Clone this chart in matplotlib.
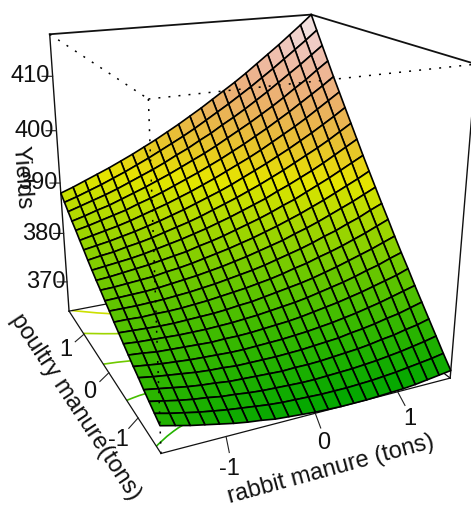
import numpy as np
import matplotlib
matplotlib.use("Agg")
import matplotlib.pyplot as plt
from matplotlib.colors import hsv_to_rgb
from mpl_toolkits.mplot3d import proj3d

plt.rcParams['font.family'] = ['Liberation Sans', 'DejaVu Sans']

rabbit = [-1.68, -1.527, -1.375, -1.222, -1.069, -0.916, -0.764, -0.611, -0.458, -0.305, -0.153, 0.0,
          0.153, 0.305, 0.458, 0.611, 0.764, 0.916, 1.069, 1.222, 1.375, 1.527, 1.68]
poultry = [-1.68, -1.527, -1.375, -1.222, -1.069, -0.916, -0.764, -0.611, -0.458, -0.305, -0.153, 0.0,
           0.153, 0.305, 0.458, 0.611, 0.764, 0.916, 1.069, 1.222, 1.375, 1.527, 1.68]
# rows are poultry levels, columns are rabbit levels
yields = [
    [370.0, 369.4, 368.8, 368.3, 367.8, 367.3, 366.9, 366.6, 366.2, 366.0, 365.8, 365.6, 365.5, 365.4, 365.4, 365.4, 365.5, 365.6, 365.7, 365.9, 366.2, 366.5, 366.8],
    [370.7, 370.1, 369.6, 369.1, 368.7, 368.3, 368.0, 367.7, 367.4, 367.2, 367.1, 367.0, 366.9, 366.9, 366.9, 367.0, 367.1, 367.3, 367.5, 367.8, 368.1, 368.4, 368.8],
    [371.4, 370.9, 370.4, 370.0, 369.7, 369.3, 369.1, 368.8, 368.6, 368.5, 368.4, 368.3, 368.3, 368.4, 368.5, 368.6, 368.8, 369.0, 369.3, 369.6, 370.0, 370.4, 370.9],
    [372.1, 371.7, 371.3, 370.9, 370.6, 370.4, 370.1, 370.0, 369.9, 369.8, 369.7, 369.8, 369.8, 369.9, 370.1, 370.3, 370.5, 370.8, 371.2, 371.5, 372.0, 372.4, 373.0],
    [372.9, 372.5, 372.2, 371.9, 371.6, 371.4, 371.3, 371.1, 371.1, 371.1, 371.1, 371.2, 371.3, 371.5, 371.7, 371.9, 372.3, 372.6, 373.0, 373.5, 373.9, 374.5, 375.1],
    [373.6, 373.3, 373.0, 372.8, 372.6, 372.5, 372.4, 372.3, 372.3, 372.4, 372.5, 372.6, 372.8, 373.0, 373.3, 373.6, 374.0, 374.4, 374.9, 375.4, 376.0, 376.6, 377.2],
    [374.4, 374.2, 373.9, 373.8, 373.7, 373.6, 373.5, 373.6, 373.6, 373.7, 373.9, 374.1, 374.3, 374.6, 375.0, 375.4, 375.8, 376.3, 376.8, 377.4, 378.0, 378.6, 379.4],
    [375.2, 375.0, 374.9, 374.8, 374.7, 374.7, 374.7, 374.8, 374.9, 375.1, 375.3, 375.6, 375.9, 376.2, 376.6, 377.1, 377.6, 378.1, 378.7, 379.4, 380.0, 380.8, 381.5],
    [376.0, 375.9, 375.8, 375.7, 375.7, 375.8, 375.9, 376.0, 376.2, 376.5, 376.7, 377.1, 377.5, 377.9, 378.3, 378.8, 379.4, 380.0, 380.7, 381.4, 382.1, 382.9, 383.7],
    [376.8, 376.8, 376.7, 376.8, 376.8, 376.9, 377.1, 377.3, 377.6, 377.9, 378.2, 378.6, 379.0, 379.5, 380.1, 380.6, 381.3, 381.9, 382.6, 383.4, 384.2, 385.1, 386.0],
    [377.7, 377.7, 377.7, 377.8, 377.9, 378.1, 378.3, 378.6, 378.9, 379.3, 379.7, 380.1, 380.6, 381.2, 381.8, 382.4, 383.1, 383.9, 384.6, 385.5, 386.3, 387.3, 388.2],
    [378.5, 378.6, 378.7, 378.8, 379.0, 379.3, 379.6, 379.9, 380.3, 380.7, 381.2, 381.7, 382.3, 382.9, 383.5, 384.3, 385.0, 385.8, 386.7, 387.6, 388.5, 389.5, 390.5],
    [379.4, 379.5, 379.7, 379.9, 380.1, 380.5, 380.8, 381.2, 381.7, 382.2, 382.7, 383.3, 383.9, 384.6, 385.3, 386.1, 386.9, 387.8, 388.7, 389.7, 390.7, 391.7, 392.8],
    [380.2, 380.4, 380.7, 381.0, 381.3, 381.7, 382.1, 382.5, 383.1, 383.6, 384.2, 384.9, 385.6, 386.3, 387.1, 388.0, 388.8, 389.8, 390.8, 391.8, 392.9, 394.0, 395.1],
    [381.1, 381.4, 381.7, 382.0, 382.4, 382.9, 383.4, 383.9, 384.5, 385.1, 385.8, 386.5, 387.3, 388.1, 388.9, 389.9, 390.8, 391.8, 392.8, 393.9, 395.1, 396.3, 397.5],
    [382.0, 382.4, 382.7, 383.2, 383.6, 384.1, 384.7, 385.3, 385.9, 386.6, 387.4, 388.2, 389.0, 389.9, 390.8, 391.8, 392.8, 393.9, 395.0, 396.1, 397.3, 398.6, 399.9],
    [383.0, 383.4, 383.8, 384.3, 384.8, 385.4, 386.0, 386.7, 387.4, 388.2, 389.0, 389.8, 390.7, 391.7, 392.7, 393.7, 394.8, 395.9, 397.1, 398.3, 399.6, 400.9, 402.3],
    [383.9, 384.4, 384.9, 385.4, 386.0, 386.7, 387.4, 388.1, 388.9, 389.7, 390.6, 391.5, 392.5, 393.5, 394.5, 395.6, 396.8, 398.0, 399.2, 400.5, 401.9, 403.3, 404.7],
    [384.9, 385.4, 386.0, 386.6, 387.2, 388.0, 388.7, 389.5, 390.4, 391.3, 392.2, 393.2, 394.2, 395.3, 396.4, 397.6, 398.8, 400.1, 401.4, 402.8, 404.2, 405.6, 407.1],
    [385.8, 386.4, 387.1, 387.7, 388.5, 389.3, 390.1, 391.0, 391.9, 392.9, 393.9, 394.9, 396.0, 397.2, 398.4, 399.6, 400.9, 402.2, 403.6, 405.1, 406.5, 408.1, 409.6],
    [386.8, 387.5, 388.2, 388.9, 389.7, 390.6, 391.5, 392.4, 393.4, 394.5, 395.5, 396.7, 397.8, 399.1, 400.3, 401.6, 403.0, 404.4, 405.9, 407.4, 408.9, 410.5, 412.1],
    [387.8, 388.5, 389.3, 390.1, 391.0, 391.9, 392.9, 393.9, 395.0, 396.1, 397.2, 398.4, 399.7, 401.0, 402.3, 403.7, 405.1, 406.6, 408.1, 409.7, 411.3, 412.9, 414.6],
    [388.8, 389.6, 390.5, 391.4, 392.3, 393.3, 394.3, 395.4, 396.5, 397.7, 398.9, 400.2, 401.5, 402.9, 404.3, 405.7, 407.2, 408.8, 410.4, 412.0, 413.7, 415.4, 417.2],
]
rabbit_ticks = [-1, 0, 1]
poultry_ticks = [-1, 0, 1]
yield_ticks = [370, 380, 390, 400, 410]
contour_levels = [370.6, 375.1, 379.7, 384.6, 389]
zlow = 365.4
zhigh = 417.2


def terrain(z):
    t = (np.asarray(z, dtype=float) - zlow) / (zhigh - zlow)
    t = np.clip(t, 0, 1)
    low = np.clip(t / 0.5, 0, 1)
    high = np.clip((t - 0.5) / 0.5, 0, 1)
    h = np.where(t < 0.5, 1 / 3 - low / 6, (1 - high) / 6)
    s = np.where(t < 0.5, 1.0, 1 - high)
    v = np.where(t < 0.5, 0.65 + 0.25 * low, 0.9 + 0.05 * high)
    return hsv_to_rgb(np.stack([h, s, v], axis=-1))


def px_text(x, y, s, rot):
    fig.text(x / 471, 1 - y / 507, s, rotation=rot, rotation_mode='anchor',
             ha='center', va='center', fontsize=17, color='#111111')


def label3d(x, y, z, s):
    # place the label through the 3d projection, then keep it as a flat text
    xp, yp, _ = proj3d.proj_transform(x, y, z, ax.get_proj())
    ax.text2D(xp, yp, s, transform=ax.transData, ha='center', va='center',
              fontsize=17, color='#111111', zorder=5)


W, H = 471, 507
S = 506.6
fig = plt.figure(figsize=(W / 100, H / 100), dpi=100)
ax = fig.add_axes([-13.5 / W, 43.5 / H, S / W, S / H], projection='3d',
                  computed_zorder=False)
ax.set_proj_type('persp', focal_length=0.352)
ax.view_init(elev=20, azim=-114.8)
ax.set_box_aspect((1, 1, 1.035), zoom=1.013)
ax.set_axis_off()

R, P = np.meshgrid(rabbit, poultry)
Z = np.array(yields)
x0, x1 = rabbit[0], rabbit[-1]
y0, y1 = poultry[0], poultry[-1]
ax.set_xlim(x0, x1, view_margin=0)
ax.set_ylim(y0, y1, view_margin=0)
ax.set_zlim(zlow, zhigh, view_margin=0)

# contours on the floor of the box
ax.contour(R, P, Z, levels=contour_levels, colors=[tuple(c) for c in terrain(contour_levels)],
           zdir='z', offset=zlow, linewidths=1.2, zorder=1)

# back and floor edges
solid = [
    ((x0, y1, zhigh), (x1, y1, zhigh), 1.3),
    ((x1, y1, zhigh), (x1, y0, zhigh), 1.3),
    ((x0, y1, zhigh), (x0, y1, zlow), 1.0),
    ((x1, y0, zhigh), (x1, y0, zlow), 1.0),
    ((x0, y1, zlow), (x0, y0, zlow), 0.9),
    ((x0, y0, zlow), (x1, y0, zlow), 0.9),
    ((x0, y1, zlow), (x1, y1, zlow), 0.9),
    ((x1, y1, zlow), (x1, y0, zlow), 0.9),
]
for a, b, lw in solid:
    ax.plot(*zip(a, b), color='#111111', lw=lw, zorder=1.5)

# ticks stand square to their edge on screen, so they need both floor directions
for t in rabbit_ticks:
    ax.plot([t, t - 0.08], [y0, y0 - 0.26], [zlow, zlow], color='#222222', lw=0.8, zorder=1.5)
    label3d(t - 0.18, y0 - 0.5, zlow, str(t))
for t in poultry_ticks:
    ax.plot([x0, x0 - 0.145], [t, t - 0.14], [zlow, zlow], color='#222222', lw=0.8, zorder=1.5)
    label3d(x0 - 0.3, t - 0.3, zlow, str(t))
for t in yield_ticks:
    # the printed scale runs a little tighter than the box height
    zt = 410 + (t - 410) * 0.965
    ax.plot([x0, x0 - 0.11], [y1, y1 + 0.05], [zt, zt], color='#222222', lw=0.8, zorder=1.5)
    label3d(x0 - 0.24, y1 + 0.107, zt, str(t))

# surface, colored by facet height
corners = (Z[:-1, :-1] + Z[1:, :-1] + Z[:-1, 1:] + Z[1:, 1:]) / 4
colors = np.ones(Z.shape + (3,))
colors[:-1, :-1] = terrain(corners)
ax.plot_surface(R, P, Z, rstride=1, cstride=1, facecolors=colors, shade=False,
                edgecolor='black', linewidth=1.2, antialiased=True, zorder=2)

# front edges are dotted and lie over the surface
dots = (0, (1.3, 5.3))
front = [
    ((x0, y1, zhigh), (x0, y0, zhigh)),
    ((x0, y0, zhigh), (x1, y0, zhigh)),
    ((x0, y0, zhigh), (x0, y0, zlow)),
]
for a, b in front:
    ax.plot(*zip(a, b), color='black', lw=1.1, linestyle=dots, zorder=3)

px_text(331, 469, 'rabbit manure (tons)', 15.2)
px_text(75, 407, 'poultry manure(tons)', -56.5)
px_text(22, 177, 'Yields', -86)

fig.savefig('out.png', dpi=100)
